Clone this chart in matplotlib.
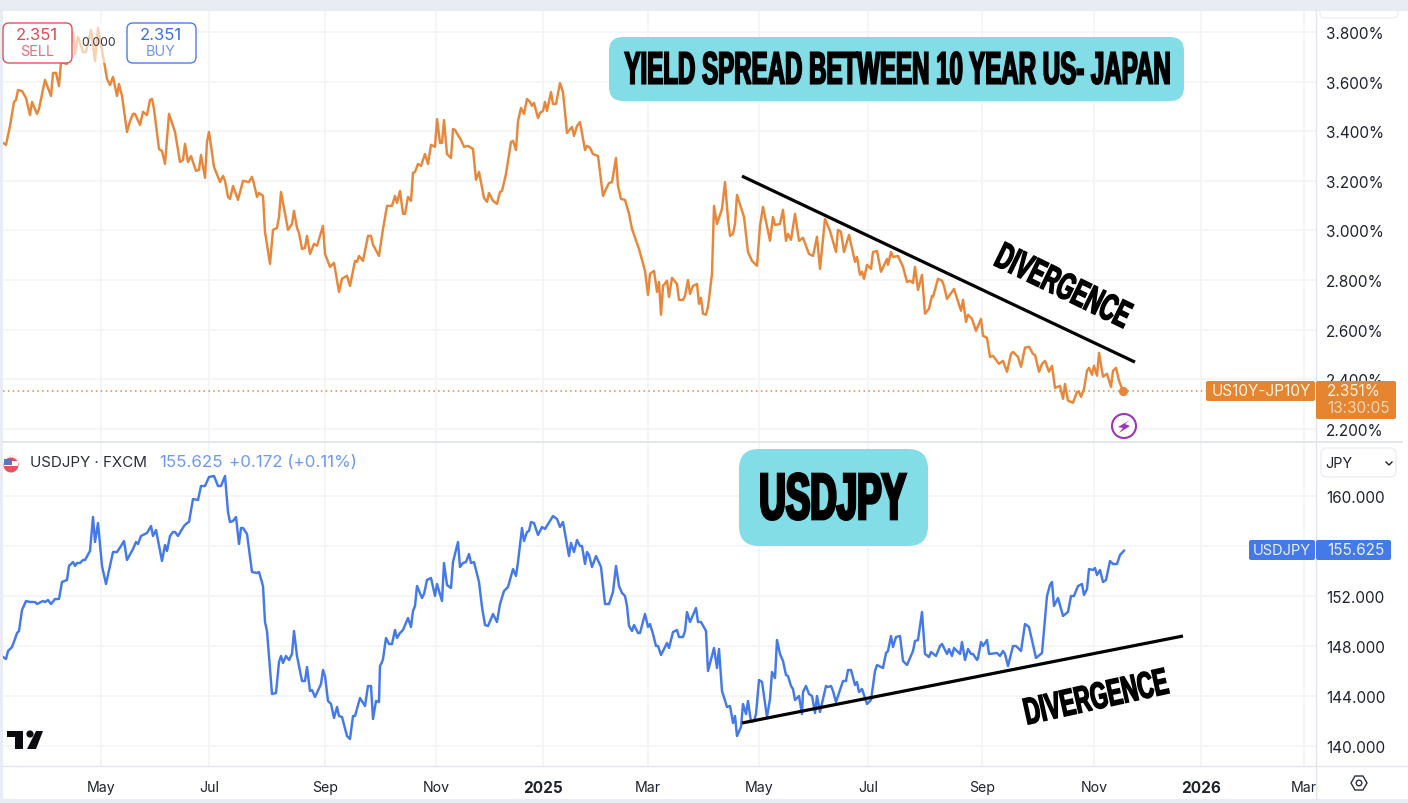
import matplotlib
matplotlib.use("Agg")
import matplotlib.pyplot as plt
from matplotlib.patches import FancyBboxPatch, Rectangle, Circle, Polygon
from matplotlib.transforms import Bbox, Affine2D
from matplotlib.text import Text, TextPath
from matplotlib.font_manager import FontProperties
from matplotlib.colors import to_rgb

# ---------- data: (time position, value) ----------
spread_2024_a = [(3,3.353),(6,3.345),(10,3.421),(14,3.518),(16,3.526),(18,3.566),(22,3.562),(26,3.534),(30,3.465),(32,3.518),(37,3.470),(39,3.490),(45,3.607),(51,3.542),(53,3.635),(56,3.635),(59,3.582),(61,3.679),(67,3.671),(73,3.800),(75,3.711),(78,3.780),(83,3.719),(86,3.719),(91,3.808),(95,3.683),(98,3.816),(105,3.659),(107,3.611),(110,3.586),(113,3.619),(117,3.542),(119,3.590),(122,3.542),(127,3.397),(130,3.441),(133,3.470),(135,3.470),(140,3.425),(143,3.478),(147,3.465),(150,3.526),(152,3.530),(154,3.490),(159,3.328),(162,3.320),(165,3.268),(169,3.470),(175,3.397),(180,3.276),(183,3.284),(185,3.349),(188,3.276),(191,3.300),(196,3.240),(199,3.244),(201,3.304),(205,3.212),(207,3.357),(209,3.397),(214,3.256),(220,3.195),(223,3.220),(225,3.200),(228,3.135),(230,3.127),(233,3.179),(238,3.123),(243,3.200),(249,3.195),(252,3.216),(254,3.187),(257,3.135),(259,3.151),(263,3.139),(265,2.994),(270,2.865),(273,3.002),(277,3.010),(279,3.054),(281,3.155),(288,3.002),(292,3.026),(294,3.079),(297,3.010),(299,2.990),(302,2.925),(305,2.930),(307,2.978),(310,2.905),(314,2.946),(317,2.938),(323,3.018),(325,2.905),(330,2.853),(334,2.869),(339,2.752),(342,2.805),(347,2.817),(350,2.776),(355,2.877),(357,2.873),(359,2.897),(363,2.877),(368,2.978),(371,2.978),(373,2.942),(379,2.897),(383,3.006),(387,3.099),(392,3.099),(395,3.139),(397,3.111),(400,3.159)]
spread_2024_b = [(403,3.067),(405,3.067),(408,3.135),(411,3.119),(413,3.232),(415,3.236),(418,3.268),(421,3.260),(425,3.308),(428,3.268),(431,3.345),(435,3.337),(437,3.449),(440,3.353),(442,3.353),(444,3.445),(447,3.308),(451,3.292),(453,3.409),(455,3.405),(459,3.377),(460,3.373),(464,3.337),(468,3.341),(473,3.328),(476,3.204),(479,3.236),(484,3.131),(487,3.115),(489,3.151),(493,3.119),(497,3.107),(500,3.155),(502,3.159),(506,3.228),(511,3.357),(513,3.361),(516,3.324),(518,3.441),(521,3.494),(524,3.470),(527,3.530),(530,3.518),(532,3.502),(534,3.514),(538,3.453),(540,3.474),(543,3.482),(545,3.518),(547,3.482),(551,3.558),(553,3.510),(556,3.510),(560,3.594),(563,3.558),(567,3.393),(572,3.417),(574,3.381),(577,3.421),(580,3.437),(585,3.324),(587,3.341),(590,3.333),(593,3.308),(598,3.300),(603,3.139),(606,3.167),(609,3.191),(612,3.195),(616,3.292),(618,3.179),(621,3.127),(625,3.123),(629,3.067),(632,3.006),(639,2.925),(645,2.837),(648,2.740),(650,2.825),(654,2.837),(657,2.752),(659,2.792),(661,2.660),(663,2.776),(667,2.797),(669,2.732),(672,2.809),(677,2.784),(679,2.720),(683,2.720),(685,2.736),(688,2.800),(690,2.744),(693,2.776),(697,2.784),(699,2.704),(701,2.728),(703,2.664),(706,2.660),(708,2.692),(712,2.825),(714,3.099),(717,3.026),(722,3.087),(725,3.195),(728,3.046),(730,2.978),(733,2.986),(735,3.026),(737,3.143),(744,3.054),(748,2.913),(752,2.877),(757,2.857),(760,3.018),(763,3.095),(770,2.958),(773,3.054),(775,3.022),(780,3.026),(783,3.083)]
spread_2025 = [(786,2.958),(788,2.986),(791,2.962),(795,3.067),(799,2.958),(803,2.970),(809,2.905),(813,2.897),(817,2.974),(820,2.845),(825,3.046),(830,2.998),(836,2.913),(838,3.002),(841,2.994),(844,2.913),(849,2.982),(855,2.873),(857,2.893),(860,2.821),(862,2.833),(864,2.805),(867,2.861),(871,2.845),(873,2.913),(877,2.917),(881,2.833),(887,2.885),(888,2.861),(891,2.913),(893,2.893),(898,2.897),(903,2.853),(907,2.792),(910,2.797),(913,2.788),(915,2.853),(918,2.760),(922,2.821),(925,2.664),(929,2.684),(932,2.736),(933,2.732),(938,2.805),(942,2.797),(944,2.776),(947,2.724),(954,2.764),(961,2.676),(963,2.720),(966,2.631),(968,2.660),(972,2.643),(976,2.595),(981,2.643),(983,2.575),(987,2.567),(990,2.490),(993,2.494),(999,2.462),(1003,2.474),(1007,2.430),(1011,2.502),(1013,2.510),(1018,2.490),(1021,2.450),(1025,2.527),(1029,2.531),(1033,2.502),(1035,2.498),(1039,2.430),(1042,2.462),(1045,2.474),(1049,2.430),(1052,2.454),(1055,2.365),(1060,2.373),(1063,2.321),(1065,2.381),(1068,2.313),(1073,2.305),(1077,2.349),(1079,2.349),(1081,2.329),(1084,2.361),(1087,2.434),(1089,2.446),(1092,2.418),(1094,2.454),(1097,2.414),(1099,2.506),(1103,2.410),(1107,2.422),(1111,2.369),(1113,2.434),(1116,2.446),(1119,2.394),(1123,2.351)]

usdjpy_2024_a = [(3,147.12),(6,146.96),(8,147.6),(12,147.92),(15,148.56),(17,149.04),(19,149.2),(22,150.88),(26,151.6),(30,151.52),(35,151.52),(37,151.36),(43,151.6),(45,151.52),(48,151.68),(51,151.36),(55,151.76),(59,151.76),(62,153.12),(67,153.28),(69,154.4),(73,154.72),(75,154.4),(77,154.64),(80,154.64),(83,154.88),(85,154.88),(90,155.6),(93,158.32),(95,156.32),(98,157.84),(102,154.4),(106,152.96),(113,155.52),(117,155.52),(121,156),(124,156.4),(127,154.88),(133,155.76),(136,156.32),(138,156.16),(141,156.8),(147,157.04),(151,157.6),(153,156.8),(156,157.28),(162,154.8),(165,156.08),(167,155.6),(170,156.8),(173,157.12),(175,157.12),(178,156.8),(184,157.6),(187,157.84),(189,157.92),(193,159.76),(198,159.68),(201,160.8),(205,160.8),(209,161.52),(214,161.6),(218,160.8),(221,160.8),(225,161.6),(228,158.72),(230,157.92),(233,158),(236,158.32),(239,156.16),(241,157.44),(243,157.44),(247,156.96),(252,153.92),(257,153.84),(259,153.92),(263,152.8),(265,149.92),(267,149.2),(272,144.16),(276,144.24),(279,146.72),(281,147.2),(283,146.64),(286,147.2),(289,146.88),(292,147.36),(294,149.2),(297,147.2),(302,145.2),(305,145.2),(307,146.32),(310,144.4),(312,144.48),(315,143.92),(321,144.96),(323,146.08),(325,145.6),(328,143.6),(331,143.36),(334,142.24),(337,143.12),(339,142.4),(342,142.32),(347,140.8),(350,140.56),(353,142.4),(355,142.4),(360,143.84),(365,143.2),(368,144.8),(371,144.8),(373,142.16),(376,143.6),(379,143.52)]
usdjpy_2024_b = [(380,146.4),(382,146.72),(383,146.96),(386,148.64),(389,148.16),(392,148.16),(395,149.28),(397,148.64),(400,149.04),(403,149.28),(408,150.24),(411,149.52),(413,150.8),(415,151.2),(417,152.8),(422,151.84),(424,152.16),(427,153.28),(431,153.44),(435,152),(437,152.96),(442,151.6),(444,154.64),(447,152.88),(451,152.64),(453,154.72),(458,156.32),(460,154.32),(463,154.64),(466,154.72),(469,155.36),(471,154.64),(474,154.72),(479,153.12),(482,151.12),(485,149.68),(488,149.6),(493,150.56),(497,149.92),(500,151.36),(504,152.4),(508,152.72),(511,153.6),(513,154.16),(516,153.6),(518,154.72),(522,157.44),(524,156.4),(527,157.12),(529,157.2),(531,157.92),(534,157.84),(538,156.88),(542,157.52),(545,157.36),(553,158.4),(557,158.16),(560,157.52),(563,157.92),(569,155.2),(571,156.24),(574,155.52),(577,156.48),(580,156),(582,156),(585,154.56),(587,155.52),(589,155.28),(592,154.32),(596,155.2),(601,154.32),(605,151.36),(609,151.36),(613,152.32),(616,154.4),(619,152.8),(622,152.24),(625,152),(627,151.2),(629,149.6),(632,149.2),(634,149.68),(638,149.04),(640,149.04),(645,150.56),(648,149.52),(650,149.76),(653,148.96),(656,148),(658,148),(661,147.28),(667,148.24),(669,147.84),(673,149.12),(677,149.28),(679,148.72),(683,148.72),(685,149.2),(687,150.72),(690,149.92),(696,151.04),(698,149.92),(701,149.92),(706,149.2),(708,146),(714,147.84),(717,146.24),(719,147.76),(722,144.4)]
usdjpy_2025 = [(727,143.12),(730,143.2),(733,141.84),(735,142.4),(737,140.8),(741,141.52),(743,143.36),(746,142.56),(748,143.6),(751,141.92),(754,142),(756,142.56),(759,145.28),(762,145.12),(767,142.32),(770,143.76),(772,145.92),(775,145.44),(777,148.48),(780,147.36),(783,146.8),(786,145.68),(788,145.6),(791,144.8),(793,144.56),(795,143.68),(799,144),(802,142.56),(803,144.32),(806,144.8),(809,144.16),(812,144),(815,142.64),(817,144),(820,142.72),(826,144.8),(828,144.72),(831,144.8),(833,144.4),(836,143.52),(843,145.2),(846,145.2),(848,146.08),(851,146.08),(855,144.88),(857,145.12),(859,144.32),(862,144.56),(867,143.36),(871,143.68),(875,146),(877,146.48),(883,146.24),(886,147.44),(888,147.6),(891,148.8),(893,147.92),(896,148.72),(900,148.8),(903,146.8),(907,146.48),(913,147.6),(915,148.4),(918,148.48),(922,150.72),(925,147.36),(929,147.12),(931,147.52),(936,147.2),(940,148),(942,148.16),(947,147.36),(949,147.76),(952,147.2),(954,147.84),(960,147.36),(962,148.32),(965,146.88),(968,147.76),(971,147.36),(973,147.36),(977,146.88),(978,147.04),(981,148.32),(983,148),(987,148.48),(989,147.36),(997,147.44),(1000,147.2),(1003,147.6),(1005,147.36),(1008,146.4),(1013,148),(1016,148),(1021,147.6),(1025,149.76),(1029,149.52),(1036,147.04),(1042,147.44),(1047,152),(1050,152.88),(1052,153.12),(1054,151.2),(1058,151.84),(1063,150.4),(1068,150.72),(1071,152),(1074,152),(1078,152.8),(1082,152.96),(1084,152.08),(1087,152.56),(1089,154.16),(1093,154.08),(1095,154.24),(1097,153.68),(1100,154.08),(1103,153.12),(1106,153.28),(1110,154.8),(1113,154.56),(1117,154.56),(1120,155.28),(1124,155.625)]

spread_trend = [(742,3.219),(1135,2.469)]
usdjpy_trend = [(742,141.84),(1183,148.8)]

spread_ticks = [2.2,2.4,2.6,2.8,3.0,3.2,3.4,3.6,3.8]
usdjpy_ticks = [140,144,148,152,156,160]
month_pos = [101,209,325,436,543,648,759,868,982,1094,1201,1304]
month_labels = ["May","Jul","Sep","Nov","2025","Mar","May","Jul","Sep","Nov","2026","Mar"]
spread_last = 2.351
usdjpy_last = 155.625

# ---------- colours ----------
ORANGE = "#e8873a"; BLUE = "#4479ea"; GRID = "#f3f4f7"; BORDER = "#e2e5ec"
BAND = "#e9ecf2"; TEXT = "#1e222d"; CYAN = "#82dde6"
plt.rcParams['font.family'] = ['Inter', 'DejaVu Sans']

W, H = 1408, 804
fig = plt.figure(figsize=(W/100, H/100), dpi=100, facecolor="white")


class CondensedText(Text):
    """A text artist whose glyphs are squeezed to a given box, for a poster-style condensed face."""
    def __init__(self, x, y, s, box_w, box_h, angle=0, bold_px=1.7, **kw):
        super().__init__(x, y, s, ha='center', va='center', rotation=angle, **kw)
        self.box_w, self.box_h, self.angle, self.bold_px = box_w, box_h, angle, bold_px

    def draw(self, renderer):
        prop = FontProperties(family='Liberation Sans', weight='bold')
        path = TextPath((0, 0), self.get_text(), size=100, prop=prop)
        bb = path.get_extents()
        cx, cy = self.get_transform().transform(self.get_position())
        tr = (Affine2D().translate(-bb.x0 - bb.width/2, -bb.y0 - bb.height/2)
              .scale((self.box_w - self.bold_px)/bb.width, (self.box_h - self.bold_px)/bb.height)
              .rotate_deg(self.angle).translate(cx, cy))
        gc = renderer.new_gc()
        gc.set_foreground("black")
        gc.set_linewidth(self.bold_px*72/fig.dpi)
        gc.set_joinstyle('miter')
        renderer.draw_path(gc, path, tr, to_rgb("black"))
        gc.restore()

    def get_window_extent(self, renderer=None, dpi=None):
        cx, cy = self.get_transform().transform(self.get_position())
        tr = Affine2D().rotate_deg(self.angle).translate(cx, cy)
        w, h = self.box_w/2, self.box_h/2
        pts = tr.transform([(-w, -h), (w, -h), (w, h), (-w, h)])
        return Bbox.from_extents(pts[:, 0].min(), pts[:, 1].min(), pts[:, 0].max(), pts[:, 1].max())


def rect(x0, y0, x1, y1):
    return [x0/W, 1-y1/H, (x1-x0)/W, (y1-y0)/H]

ax1 = fig.add_axes(rect(3, 12, 1316, 443))
ax2 = fig.add_axes(rect(3, 444, 1316, 767))

def style(ax, ticks, fmt, ylim):
    ax.set_xlim(3, 1316); ax.set_ylim(*ylim)
    ax.set_xticks(month_pos)
    ax.set_yticks(ticks)
    ax.set_yticklabels([fmt.format(t) for t in ticks], color=TEXT, fontsize=11)
    ax.yaxis.tick_right()
    ax.tick_params(axis='both', length=0, pad=7.2)
    ax.grid(True, color=GRID, lw=1.2)
    ax.set_axisbelow(True)
    for s in ax.spines.values():
        s.set_visible(False)

style(ax1, spread_ticks, "{:.3f}%", (2.1468, 3.8847))
style(ax2, usdjpy_ticks, "{:.3f}", (138.4, 164.24))
ax1.tick_params(axis='x', labelbottom=False)
ax2.set_xticklabels(month_labels, color=TEXT, fontsize=10.2)
ax2.tick_params(axis='x', pad=9.8)
for lab, txt in zip(ax2.get_xticklabels(), month_labels):
    if txt.isdigit():
        lab.set_fontweight('bold')
        lab.set_fontsize(11)
    lab.set_clip_box(Bbox([[0, 0], [1316, H]]))
    lab.set_clip_on(True)

spread = spread_2024_a + spread_2024_b + spread_2025
usdjpy = usdjpy_2024_a + usdjpy_2024_b + usdjpy_2025
ax1.plot([p[0] for p in spread], [p[1] for p in spread], color=ORANGE, lw=1.75, solid_joinstyle='round', zorder=3)
ax1.axhline(spread_last, color=ORANGE, lw=1.1, ls=(0, (1, 2.2)), zorder=2)
ax1.plot([spread[-1][0]], [spread_last], 'o', color=ORANGE, ms=5.6, zorder=4)
ax1.plot(*zip(*spread_trend), color="black", lw=2.3, zorder=5, solid_capstyle='butt')

ax2.plot([p[0] for p in usdjpy], [p[1] for p in usdjpy], color=BLUE, lw=1.75,
         solid_joinstyle='round', zorder=3)
ax2.plot(*zip(*usdjpy_trend), color="black", lw=2.3, zorder=5, solid_capstyle='butt')

# ---------- overlay in picture coordinates ----------
ov = fig.add_axes([0, 0, 1, 1], zorder=10)
ov.set_xlim(0, W); ov.set_ylim(H, 0); ov.axis('off'); ov.patch.set_alpha(0)

def box(x0, y0, x1, y1, r=0, fc="white", ec="none", lw=1.0, alpha=None, z=1):
    p = FancyBboxPatch((x0+r, y0+r), x1-x0-2*r, y1-y0-2*r, boxstyle=f"round,pad={r},rounding_size={r}",
                       fc=fc, ec=ec, lw=lw, alpha=alpha, zorder=z, mutation_aspect=1)
    ov.add_patch(p)

def poster(x, y, s, w, h, angle=0, bold_px=1.7):
    t = CondensedText(x, y, s, w, h, angle, bold_px, transform=ov.transData, zorder=3)
    ov.add_artist(t)

# frame bands and borders
ov.add_patch(Rectangle((0, 0), W, 12, fc=BAND, ec="none", zorder=0))
ov.add_patch(Rectangle((0, 0), 3, H, fc=BAND, ec="none", zorder=0))
ov.add_patch(Rectangle((0, 800), W, 4, fc=BAND, ec="none", zorder=0))
ov.plot([3, 1402], [443, 443], color=BORDER, lw=1.4, zorder=0.5)
ov.plot([3, 1408], [767, 767], color=BORDER, lw=1.0, zorder=0.5)
ov.plot([1316, 1316], [12, 800], color=BORDER, lw=1.0, zorder=0.5)
box(1320, 2, 1398, 19, r=5, ec="#eef0f5", fc="white", z=0.2)
ov.add_patch(Rectangle((1316, 0), 92, 12, fc=BAND, ec="none", zorder=0.3))

# order buttons with the faded strip under them
ov.add_patch(Rectangle((3, 24), 193, 40, fc="white", ec="none", alpha=0.62, zorder=0.6))
box(3, 24, 72, 64, r=6, ec="#e4505c", lw=1.0)
box(127, 24, 196, 64, r=6, ec="#4b7bec", lw=1.0)
ov.text(37, 35, "2.351", color="#e04a56", ha='center', va='center', fontsize=12, zorder=3)
ov.text(37, 52, "SELL", color="#e8707a", ha='center', va='center', fontsize=10.4, zorder=3)
ov.text(161, 35, "2.351", color="#3f6fe8", ha='center', va='center', fontsize=12, zorder=3)
ov.text(161, 52, "BUY", color="#6f96ef", ha='center', va='center', fontsize=10.4, zorder=3)
ov.text(99, 43, "0.000", color="#333842", ha='center', va='center', fontsize=8.8, zorder=3)

# annotation boxes
box(609, 38, 1184, 102, r=14, fc=CYAN)
poster(897, 69, "YIELD SPREAD BETWEEN 10 YEAR US- JAPAN", 546, 34, 0, 1.7)
box(739, 450, 928, 547, r=20, fc=CYAN)
poster(833.5, 497.5, "USDJPY", 147, 49, 0, 3.0)
poster(1064, 286, "DIVERGENCE", 145, 28, -26, 1.5)
poster(1096, 697, "DIVERGENCE", 146, 28, 12.5, 1.5)

# price labels
ov.add_patch(FancyBboxPatch((1208, 384), 105, 16, boxstyle="round,pad=2,rounding_size=2", fc="#e5852f", ec="none", zorder=2))
ov.add_patch(FancyBboxPatch((1318, 384), 76, 34, boxstyle="round,pad=2,rounding_size=2", fc="#e5852f", ec="none", zorder=2))
ov.text(1261, 392, "US10Y-JP10Y", color="#fff3e6", ha='center', va='center', fontsize=11, zorder=3)
ov.text(1327, 392, "2.351%", color="#fff3e6", ha='left', va='center', fontsize=11, zorder=3)
ov.text(1327, 409, "13:30:05", color="#f7d5b5", ha='left', va='center', fontsize=11, zorder=3)
ov.add_patch(FancyBboxPatch((1251, 543), 62, 16, boxstyle="round,pad=2,rounding_size=2", fc="#4479ea", ec="none", zorder=2))
ov.add_patch(FancyBboxPatch((1318, 543), 71, 16, boxstyle="round,pad=2,rounding_size=2", fc="#4479ea", ec="none", zorder=2))
ov.text(1282, 551, "USDJPY", color="#eaf0ff", ha='center', va='center', fontsize=10.5, zorder=3)
ov.text(1327, 551, "155.625", color="#eaf0ff", ha='left', va='center', fontsize=11, zorder=3)

# lightning badge
ov.add_patch(Circle((1124, 427), 12, fc="white", ec="#9c35b5", lw=1.5, zorder=3))
ov.add_patch(Polygon([(1130, 421), (1118, 428), (1123, 429), (1119, 434), (1130, 427), (1125, 425)],
                     fc="#9c35b5", ec="none", zorder=4))

# legend row of lower pane
ov.add_patch(Circle((12, 464), 8, fc="#f2f3f7", ec="none", zorder=2))
ov.add_patch(Circle((11, 466), 7.5, fc="#e5525c", ec="none", zorder=2.1))
ov.add_patch(Rectangle((4, 462), 14, 5, fc="white", ec="none", zorder=2.2))
ov.add_patch(Rectangle((4, 460), 8, 6, fc="#5477c9", ec="none", zorder=2.3))
ov.text(30, 463, "USDJPY · FXCM", color="#2a2e39", ha='left', va='center', fontsize=10.9, zorder=3)
ov.text(159, 463, "155.625", color="#6e99f3", ha='left', va='center', fontsize=12.2, zorder=3)
ov.text(229, 463, "+0.172 (+0.11%)", color="#6e99f3", ha='left', va='center', fontsize=12.2, zorder=3)

# currency button
box(1321, 449, 1396, 478, r=6, ec="#eef0f5", lw=1.2)
ov.text(1325, 464, "JPY", color=TEXT, ha='left', va='center', fontsize=10.4, zorder=3)
ov.plot([1386, 1389, 1392], [463, 466, 463], color=TEXT, lw=1.0, zorder=3)

# TradingView mark
for pts in ([(7, 732), (23, 732), (23, 750), (15, 750), (15, 738), (7, 738)],
            [(36, 732), (43, 732), (36, 750), (27, 750)]):
    ov.add_patch(Polygon(pts, fc="#0b0b0f", ec="none", zorder=3))
ov.add_patch(Circle((30, 735), 3.6, fc="#0b0b0f", ec="none", zorder=3))

# settings icon
ov.add_patch(Polygon([(1351, 784), (1355, 777), (1363, 777), (1367, 784), (1363, 791), (1355, 791)],
                     closed=True, fc="none", ec="#2a2e39", lw=1.0, zorder=3))
ov.add_patch(Circle((1359, 784), 2.8, fc="none", ec="#2a2e39", lw=1.0, zorder=3))

fig.savefig("out.png", dpi=100, facecolor="white")
